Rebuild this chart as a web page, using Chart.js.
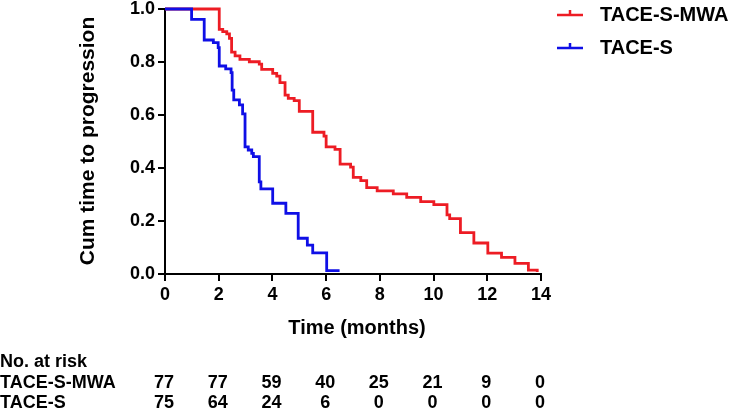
<!DOCTYPE html>
<html>
<head>
<meta charset="utf-8">
<script src="https://cdn.jsdelivr.net/npm/chart.js@4"></script>
<style>
  html, body { margin: 0; padding: 0; background: #fff; }
  canvas { display: block; }
</style>
</head>
<body>
<canvas id="kmChart" width="735" height="413"></canvas>
<script>
// Kaplan-Meier steps (time in months, cumulative value)
const mwaTime = [0, 2.02, 2.15, 2.30, 2.40, 2.48, 2.61, 2.79, 3.14, 3.51, 3.60, 4.01, 4.16, 4.28, 4.47, 4.59, 4.81, 5.00, 5.50, 5.92, 6.00, 6.33, 6.52, 6.91, 7.01, 7.29, 7.51, 7.90, 8.50, 9.00, 9.52, 10.01, 10.50, 10.60, 11.00, 11.50, 12.02, 12.53, 13.03, 13.53, 13.86];
const mwaSurv = [1.0, 0.923, 0.915, 0.906, 0.889, 0.837, 0.823, 0.810, 0.801, 0.792, 0.772, 0.757, 0.747, 0.722, 0.675, 0.663, 0.654, 0.614, 0.535, 0.520, 0.480, 0.470, 0.415, 0.403, 0.365, 0.352, 0.326, 0.314, 0.302, 0.289, 0.273, 0.262, 0.223, 0.209, 0.156, 0.117, 0.079, 0.063, 0.040, 0.015, 0.008];

const sTime = [0, 0.99, 1.46, 1.80, 1.98, 2.02, 2.26, 2.46, 2.50, 2.56, 2.77, 2.89, 2.98, 3.10, 3.23, 3.29, 3.51, 3.57, 4.01, 4.50, 4.96, 5.30, 5.50, 6.02, 6.50];
const sSurv = [1.0, 0.961, 0.883, 0.873, 0.854, 0.785, 0.774, 0.760, 0.694, 0.657, 0.638, 0.604, 0.480, 0.468, 0.455, 0.443, 0.348, 0.321, 0.267, 0.229, 0.135, 0.109, 0.080, 0.0125, 0.0125];

const seriesNames = ['TACE-S-MWA', 'TACE-S'];
const seriesColors = ['rgb(237,28,36)', 'rgb(15,15,230)'];

const xTicks = [0, 2, 4, 6, 8, 10, 12, 14];
const riskMwa = [77, 77, 59, 40, 25, 21, 9, 0];
const riskS = [75, 64, 24, 6, 0, 0, 0, 0];

const FONT = 'Arial, "Liberation Sans", sans-serif';

function toPoints(ts, vs) {
    return ts.map((t, i) => ({ x: t, y: vs[i] }));
}

const extras = {
    id: 'extras',
    afterDraw(chart) {
        const ctx = chart.ctx;
        const xs = chart.scales.x;
        ctx.save();
        ctx.fillStyle = '#000';

        // y axis title
        ctx.font = 'bold 21px ' + FONT;
        ctx.textAlign = 'center';
        ctx.textBaseline = 'middle';
        ctx.save();
        ctx.translate(88, 141);
        ctx.rotate(-Math.PI / 2);
        ctx.fillText('Cum time to progression', 0, 0);
        ctx.restore();

        // x axis title
        ctx.font = 'bold 20px ' + FONT;
        ctx.fillText('Time (months)', 357, 328);

        // legend
        const legY = [15, 48];
        seriesNames.forEach((name, i) => {
            const y = legY[i];
            ctx.strokeStyle = seriesColors[i];
            ctx.lineWidth = 2.5;
            ctx.beginPath();
            ctx.moveTo(557, y);
            ctx.lineTo(583, y);
            ctx.moveTo(570, y);
            ctx.lineTo(570, y - 5);
            ctx.stroke();
            ctx.fillStyle = '#000';
            ctx.font = 'bold 20px ' + FONT;
            ctx.textAlign = 'left';
            ctx.fillText(name, 600, y);
        });

        // risk table
        ctx.font = 'bold 18px ' + FONT;
        ctx.textAlign = 'left';
        ctx.fillText('No. at risk', 0, 362);
        ctx.fillText(seriesNames[0], 0, 383);
        ctx.fillText(seriesNames[1], 0, 403);
        ctx.textAlign = 'center';
        xTicks.forEach((t, i) => {
            const px = xs.getPixelForValue(t) - 1;
            ctx.fillText(String(riskMwa[i]), px, 383);
            ctx.fillText(String(riskS[i]), px, 403);
        });
        ctx.restore();
    }
};

const axisFont = { family: FONT, size: 18, weight: 'bold' };

new Chart(document.getElementById('kmChart'), {
    type: 'line',
    data: {
        datasets: [
            {
                label: seriesNames[1],
                data: toPoints(sTime, sSurv),
                borderColor: seriesColors[1],
                borderWidth: 2.8,
                stepped: 'before',
                pointRadius: 0,
                fill: false,
                clip: 4
            },
            {
                label: seriesNames[0],
                data: toPoints(mwaTime, mwaSurv),
                borderColor: seriesColors[0],
                borderWidth: 2.8,
                stepped: 'before',
                pointRadius: 0,
                fill: false,
                clip: 4
            }
        ]
    },
    options: {
        responsive: false,
        animation: false,
        layout: { padding: { left: 0, right: 194, top: 9, bottom: 0 } },
        plugins: {
            legend: { display: false },
            tooltip: { enabled: false }
        },
        scales: {
            x: {
                type: 'linear',
                min: 0,
                max: 14,
                ticks: { stepSize: 2, color: '#000', font: axisFont, padding: 3 },
                grid: { drawOnChartArea: false, drawTicks: true, tickLength: 7, color: '#000', lineWidth: 2 },
                border: { color: '#000', width: 2 },
                afterFit(s) { s.height = 139; s.paddingLeft = 0; s.paddingRight = 0; }
            },
            y: {
                min: 0,
                max: 1,
                ticks: { stepSize: 0.2, color: '#000', font: axisFont, padding: 3, callback: v => v.toFixed(1) },
                grid: { drawOnChartArea: false, drawTicks: true, tickLength: 7, color: '#000', lineWidth: 2 },
                border: { color: '#000', width: 2 },
                afterFit(s) { s.width = 165; s.paddingTop = 0; s.paddingBottom = 0; }
            }
        }
    },
    plugins: [extras]
});
</script>
</body>
</html>
